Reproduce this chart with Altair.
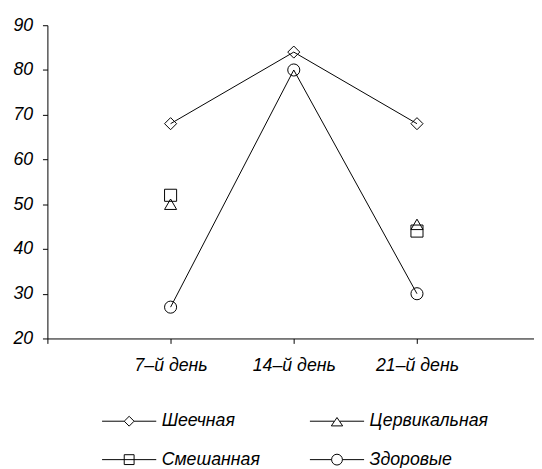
import json
import altair as alt
import pandas as pd

categories = ["7–й день", "14–й день", "21–й день"]
series = ["Шеечная", "Цервикальная", "Смешанная", "Здоровые"]
sheechnaya = [68, 84, 68]
cervikalnaya = [50, None, 45.5]
smeshannaya = [52, None, 44]
zdorovye = [27, 80, 30]
y_ticks = [20, 30, 40, 50, 60, 70, 80, 90]

plot_shapes = ["diamond", "triangle-up", "square", "circle"]
legend_shapes = [
    "M-5.5,0H-1M1,0H5.5M0,-1L1,0L0,1L-1,0Z",
    "M-5.5,0H-0.6M0.6,0H5.5M0,-0.75L1.15,0.95L-1.15,0.95Z",
    "M-5.5,0H5.5M-1,-1H1V1H-1Z",
    "M-5.5,0H-1.1M1.1,0H5.5M-1.1,0A1.1,1.1,0,1,1,1.1,0A1.1,1.1,0,1,1,-1.1,0Z",
]

rows = []
for s, vals in zip(series, [sheechnaya, cervikalnaya, smeshannaya, zdorovye]):
    for i, (c, v) in enumerate(zip(categories, vals)):
        rows.append({"series": s, "day": c, "pos": i + 1, "value": v})
df = pd.DataFrame(rows)

FONT = "Liberation Sans"
label_arr = json.dumps([""] + categories, ensure_ascii=False)

x_enc = alt.X(
    "pos:Q",
    scale=alt.Scale(domain=[0, 3.95], nice=False, zero=False),
    axis=alt.Axis(values=[0, 1, 2, 3], labelExpr=f"{label_arr}[datum.value]",
                  title=None, grid=False, tickSize=5, labelPadding=14,
                  labelFontSize=18, labelFont=FONT, labelFontStyle="italic",
                  labelColor="black", domainColor="black", tickColor="black"),
)
y_enc = alt.Y(
    "value:Q",
    scale=alt.Scale(domain=[20, 90], nice=False, zero=False),
    axis=alt.Axis(values=y_ticks, title=None, grid=False, tickSize=5, labelPadding=10,
                  labelFontSize=18, labelFont=FONT, labelFontStyle="italic",
                  labelColor="black", domainColor="black", tickColor="black"),
)

base = alt.Chart(df)

lines = base.mark_line(color="black", strokeWidth=1).encode(
    x=x_enc, y=y_enc, detail="series:N"
)

points = base.mark_point(filled=False, color="black", strokeWidth=1, size=150, opacity=1).encode(
    x=x_enc, y=y_enc,
    shape=alt.Shape("series:N", scale=alt.Scale(domain=series, range=plot_shapes), legend=None),
)

legend_layer = base.mark_point(opacity=0).encode(
    x=x_enc, y=y_enc,
    shape=alt.Shape(
        "series:N",
        scale=alt.Scale(domain=series, range=legend_shapes),
        legend=alt.Legend(
            title=None, orient="none", legendX=74, legendY=393, columns=2,
            direction="horizontal",
            symbolSize=100, symbolStrokeColor="black", symbolFillColor="transparent",
            symbolStrokeWidth=1, symbolOpacity=1,
            labelFont=FONT, labelFontSize=18, labelFontStyle="italic", labelColor="black",
            labelOffset=24, rowPadding=21, columnPadding=27, gridAlign="all",
        ),
    ),
)

chart = (
    alt.layer(lines, points, legend_layer)
    .resolve_scale(shape="independent")
    .properties(width=494, height=318, autosize=alt.AutoSizeParams(type="none"),
                padding={"left": 40, "top": 14, "right": 0, "bottom": 128})
    .configure_view(stroke=None)
)

chart.save("out.html", embed_options={"renderer": "svg", "actions": False})
